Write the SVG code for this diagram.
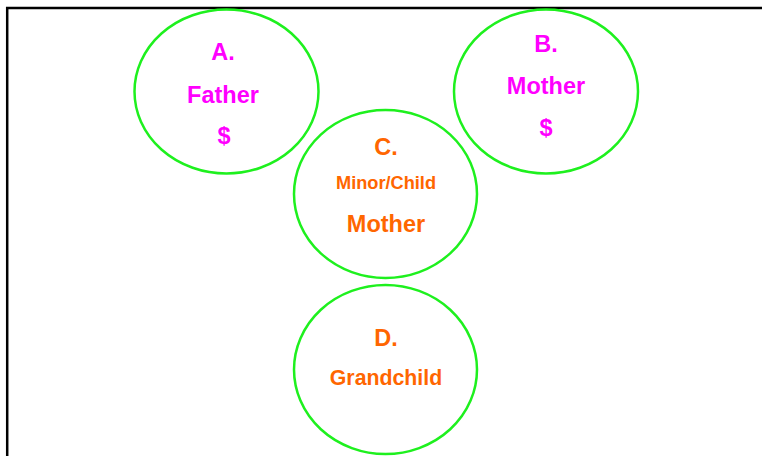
<svg xmlns="http://www.w3.org/2000/svg" width="762" height="456" viewBox="0 0 762 456">
  <style>
    .circle { fill: none; stroke: #1ef01e; stroke-width: 2.5; }
    .lbl { font-family: "Liberation Sans", Arial, sans-serif; font-weight: bold; text-anchor: middle; }
    .big { font-size: 23.5px; }
    .pink { fill: #ff00ff; }
    .orange { fill: #ff6600; }
  </style>
  <rect width="762" height="456" fill="#ffffff"/>
  <!-- frame: top and left edges only are visible -->
  <path d="M7.2,460 V8 H766" fill="none" stroke="#000000" stroke-width="2.5"/>

  <g id="nodeA">
    <ellipse class="circle" cx="226.5" cy="91.5" rx="92" ry="82"/>
    <text class="lbl pink big" x="223" y="60">A.</text>
    <text class="lbl pink big" x="223" y="102.5">Father</text>
    <text class="lbl pink big" x="224" y="144">$</text>
  </g>

  <g id="nodeB">
    <ellipse class="circle" cx="546" cy="91.5" rx="92" ry="82"/>
    <text class="lbl pink big" x="546" y="51.7">B.</text>
    <text class="lbl pink big" x="546" y="94.3">Mother</text>
    <text class="lbl pink big" x="546" y="136">$</text>
  </g>

  <g id="nodeC">
    <ellipse class="circle" cx="385.5" cy="194" rx="91.5" ry="84"/>
    <text class="lbl orange big" x="386" y="155">C.</text>
    <text class="lbl orange" x="386" y="189.3" font-size="18.2">Minor/Child</text>
    <text class="lbl orange big" x="386" y="231.7">Mother</text>
  </g>

  <g id="nodeD">
    <ellipse class="circle" cx="385.5" cy="369.5" rx="91.5" ry="84.5"/>
    <text class="lbl orange big" x="386" y="345.7">D.</text>
    <text class="lbl orange" x="386" y="385" font-size="21.3">Grandchild</text>
  </g>

  <g id="connectors"></g>
</svg>
